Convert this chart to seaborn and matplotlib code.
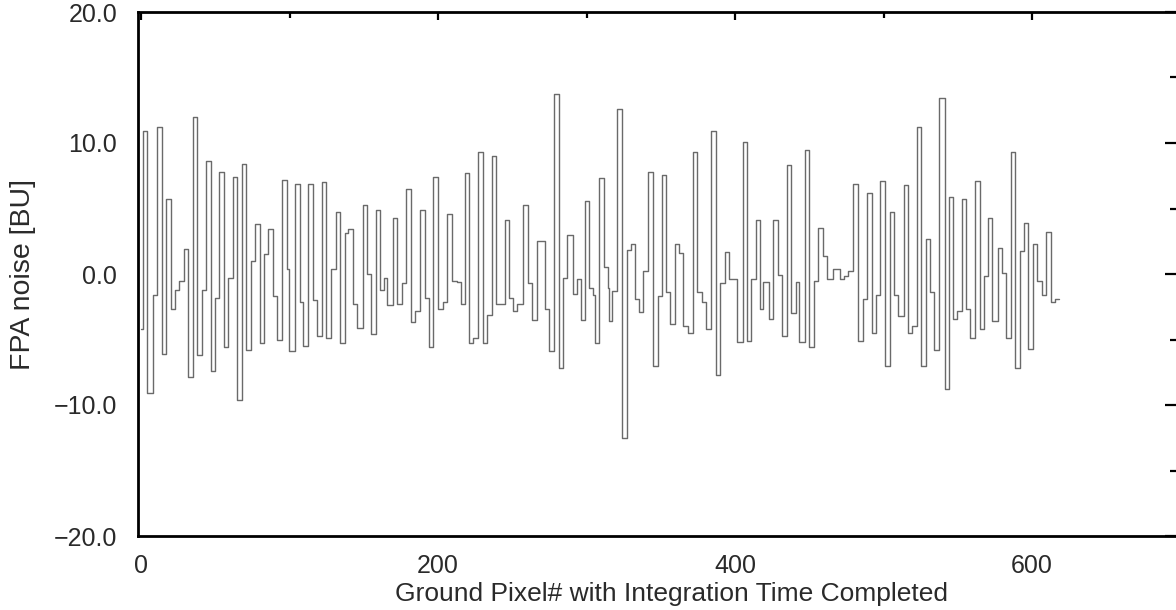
import numpy as np
import pandas as pd
import matplotlib
matplotlib.use("Agg")
import matplotlib.pyplot as plt
from matplotlib.ticker import MultipleLocator, FuncFormatter
import seaborn as sns

# Step levels of the FPA noise trace: start pixel of each level and its value [BU]
pixel = [
    0, 1.6, 4.3, 7.9, 11, 14.1, 17.1, 20, 23.1, 25.6, 28.7, 31.9, 35, 37.9, 40.9, 43.8,
    46.9, 50, 52.5, 55.7, 58.8, 61.9, 64.9, 68, 70.9, 74.1, 76.8, 80.1, 83.1, 85.5, 88.9,
    91.8, 95, 98.1,
    99.9, 103.7, 107.1, 109.3, 112.7, 116.1, 118.3, 121.7, 124.6, 127.7, 131.3, 134,
    137.4, 139.6, 142.5, 145.3, 149.3, 152.4, 154.7, 158.0, 161, 163.6, 165.9, 169.9,
    172.6, 175.5, 178.5, 181.8, 184.5, 187.9, 191.3, 194.1, 196.9, 199.8,
    203.2, 206.3, 209.2, 212.6, 215.3, 218.2, 221.1, 223.8, 227.2, 230.1, 233.2, 236.2,
    239.1, 245.1, 248.1, 250.7, 253.4, 257.5, 260.8, 263.1, 266.4, 272, 274.7, 278.3,
    281.7, 284.4, 287, 290.7, 293.4, 296.3, 299.2,
    301.9, 304.0, 305.5, 308.6, 311.8, 314.1, 315.4, 317.4, 320.8, 323.7, 327.1, 329.8,
    332.6, 335.6, 338.3, 341.6, 344.5, 348.0, 350.6, 353.5, 356.2, 359.6, 362.5, 365.2,
    368.1, 371.5, 374.6, 377.6, 380.5, 383.9, 387.2, 390.0, 392.9, 395.6,
    401.6, 405, 407.9, 411, 413.9, 416.8, 419, 423.1, 425.8, 428.7, 431.4, 434.8, 437.7,
    440.8, 443.3, 447.1, 450, 453.4, 456.1, 459.5, 462.2, 466.2, 470.7, 473, 476.3,
    479.7, 483.0, 486, 488.6, 492, 494.7, 497.6, 501,
    504, 507.1, 510, 513.4, 516.7, 519, 522.3, 525.3, 528.6, 531.3, 534.2, 537.6, 541,
    543.7, 546.6, 549.3, 552.7, 555.6, 558.3, 561.6, 565, 567.7, 570, 572.9, 576.7,
    579.6, 582.5, 585.6, 588.6, 591.5, 594.2, 597.5, 600.5, 603.1, 606.7, 609.4, 612.6,
    615.5, 618,
]
noise = [
    -4.2, 10.9, -9.1, -1.6, 11.25, -6.1, 5.7, -2.7, -1.2, -0.5, 1.9, -7.9, 12.0, -6.2,
    -1.25, 8.6, -7.4, -1.8, 7.8, -5.6, -0.3, 7.4, -9.6, 8.4, -5.8, 1.0, 3.85, -5.3, 1.5,
    3.4, -1.7, -5.0, 7.2, 0.36,
    -5.9, 6.9, -2.1, -5.5, 6.9, -2.0, -4.7, 7.0, -4.9, 0.36, 4.7, -5.3, 3.1, 3.4, -2.3,
    -4.1, 5.3, 0.0, -4.6, 4.9, -1.25, -0.3, -2.4, 4.3, -2.3, -0.7, 6.5, -3.7, -2.8, 4.9,
    -1.8, -5.6, 7.4, -2.7,
    -2.1, 4.6, -0.5, -0.6, -2.3, 7.7, -5.3, -4.9, 9.3, -5.3, -3.1, 9.0, -2.3, 4.1, -1.8,
    -2.8, -2.3, 5.3, -0.7, -3.5, 2.5, -2.7, -5.9, 13.75, -7.2, -0.3, 3.0, -1.5, -0.4,
    -3.5, 5.6,
    -1.1, -1.6, -5.3, 7.3, 0.5, -1.05, -3.6, -1.3, 12.6, -12.5, 1.8, 2.3, -1.9, -2.9,
    0.2, 7.8, -7.0, -1.7, 7.55, -1.4, -3.85, 2.3, 1.6, -4.0, -4.5, 9.3, -1.35, -2.1,
    -4.2, 10.9, -7.7, -0.7, 1.7, -0.35,
    -5.2, 10.1, -5.1, -0.4, 4.1, -2.7, -0.6, -3.4, 4.1, -0.1, -4.7, 8.3, -3.0, -0.6,
    -5.2, 9.5, -5.6, -0.5, 3.5, 1.4, -0.4, 0.36, -0.4, -0.15, 0.2, 6.9, -5.1, -1.9, 6.2,
    -4.5, -1.6, 7.1, -7.0,
    4.75, -1.6, -3.2, 6.8, -4.5, -4.0, 11.25, -7.0, 2.65, -1.4, -5.8, 13.4, -8.75, 5.9,
    -3.4, -2.8, 5.7, -2.7, -4.9, 7.1, -4.2, -0.15, 4.3, -3.6, 2.0, 0.1, -4.9, 9.3, -7.2,
    1.75, 3.9, -5.7, 2.3, -0.5, -1.6, 3.2, -2.1, -1.9, -1.9,
]

x_ticks = [0, 200, 400, 600]
y_ticks = [-20, -10, 0, 10, 20]

df = pd.DataFrame({"pixel": pixel, "noise": noise})

sns.set_theme(style="white")
plt.rcParams["font.family"] = ["Liberation Sans", "DejaVu Sans"]
txt = "#2a2a2a"

fig = plt.figure(figsize=(11.76, 6.10), dpi=100)
ax = fig.add_axes([138 / 1176, 74 / 610, 1039 / 1176, 524 / 610])

sns.lineplot(data=df, x="pixel", y="noise", ax=ax, estimator=None, sort=False,
             drawstyle="steps-post", color="#6a6a6a", linewidth=1.0)

ax.set_xlim(-2, 697.5)
ax.set_ylim(-20, 20)
ax.set_xticks(x_ticks)
ax.xaxis.set_minor_locator(MultipleLocator(100))
ax.set_yticks(y_ticks)
ax.yaxis.set_minor_locator(MultipleLocator(5))
ax.yaxis.set_major_formatter(FuncFormatter(lambda v, p: f"{v:.1f}".replace("-", "\u2212")))
ax.xaxis.set_major_formatter(FuncFormatter(lambda v, p: f"{v:.0f}"))

for s in ax.spines.values():
    s.set_visible(True)
    s.set_linewidth(2.0)
    s.set_color("black")

ax.tick_params(axis="both", which="both", direction="in", color="black", width=1.6,
               top=True, right=True, labelsize=18, labelcolor=txt)
ax.tick_params(axis="y", which="major", length=9, pad=15)
ax.tick_params(axis="y", which="minor", length=5)
ax.tick_params(axis="x", which="major", length=6, pad=13)
ax.tick_params(axis="x", which="minor", length=4)

ax.set_xlabel("Ground Pixel# with Integration Time Completed", fontsize=19, color=txt)
ax.set_ylabel("FPA noise [BU]", fontsize=20.5, color=txt, labelpad=13)
ax.xaxis.set_label_coords(0.513, -0.088)

fig.savefig("out.png", dpi=100)
